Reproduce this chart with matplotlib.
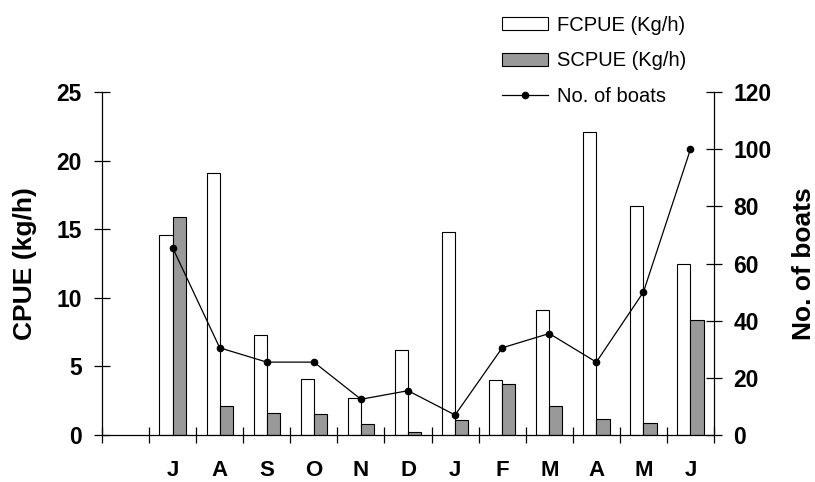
import matplotlib
matplotlib.use("Agg")
import matplotlib.pyplot as plt
import numpy as np

plt.rcParams["font.family"] = ["Liberation Sans", "DejaVu Sans"]

# monthly values, first slot on the x axis is left empty
months = ["J", "A", "S", "O", "N", "D", "J", "F", "M", "A", "M", "J"]
fcpue = [14.6, 19.1, 7.3, 4.1, 2.7, 6.2, 14.8, 4.0, 9.1, 22.1, 16.7, 12.5]
scpue = [15.9, 2.1, 1.6, 1.5, 0.8, 0.2, 1.1, 3.7, 2.1, 1.2, 0.9, 8.4]
boats = [65.5, 30.5, 25.5, 25.5, 12.5, 15.5, 7, 30.5, 35.5, 25.5, 50, 100]

x = np.arange(1, len(months) + 1)
width = 0.28

fig = plt.figure(figsize=(8.15, 4.82), dpi=100)
ax = fig.add_axes([0.1252, 0.0975, 0.7509, 0.7116])
ax2 = ax.twinx()

b1 = ax.bar(x - width / 2, fcpue, width, color="white", edgecolor="black", lw=0.8,
            label="FCPUE (Kg/h)", zorder=2)
b2 = ax.bar(x + width / 2, scpue, width, color="#999999", edgecolor="black", lw=0.8,
            label="SCPUE (Kg/h)", zorder=2)
ln, = ax2.plot(x, boats, color="black", lw=0.9, marker="o", ms=4.5,
               label="No. of boats")

ax.set_xlim(-0.5, 12.5)
ax.set_ylim(0, 25)
ax2.set_ylim(0, 120)
ax.set_yticks(np.arange(0, 26, 5))
ax2.set_yticks(np.arange(0, 121, 20))

# slot boundaries as ticks, month names centred in the slots
ax.set_xticks(np.arange(-0.5, 13, 1))
ax.set_xticklabels([])
ax.set_xticks(x, minor=True)
ax.set_xticklabels(months, minor=True, fontsize=16, fontweight="bold")
ax.tick_params(axis="x", which="minor", length=0, pad=18)
ax.tick_params(axis="x", which="major", direction="inout", length=11, width=0.9)

ax.tick_params(axis="y", direction="inout", length=11, width=0.9, pad=9,
               labelsize=16.5)
ax2.tick_params(axis="y", direction="inout", length=11, width=0.9, pad=8.5,
                labelsize=16.5)
for lab in ax.get_yticklabels() + ax2.get_yticklabels():
    lab.set_fontweight("bold")

for a in (ax, ax2):
    a.spines["top"].set_visible(False)
    for s in ("left", "right", "bottom"):
        a.spines[s].set_linewidth(0.9)
ax.spines["right"].set_visible(False)
ax2.spines["left"].set_visible(False)
ax2.spines["bottom"].set_visible(False)

ax.set_ylabel("CPUE (kg/h)", fontsize=19, fontweight="bold")
ax.yaxis.set_label_coords(-0.107, 0.5)
ax2.set_ylabel("No. of boats", fontsize=19, fontweight="bold")
ax2.yaxis.set_label_coords(1.127, 0.5)

fig.legend([b1, b2, ln], [b1.get_label(), b2.get_label(), ln.get_label()],
           loc="upper left", bbox_to_anchor=(0.616, 0.967), frameon=False,
           fontsize=14.5, handlelength=2.3, handleheight=0.6, handletextpad=0.45,
           labelspacing=0.82, borderpad=0, borderaxespad=0)

fig.savefig("out.png", dpi=100)
